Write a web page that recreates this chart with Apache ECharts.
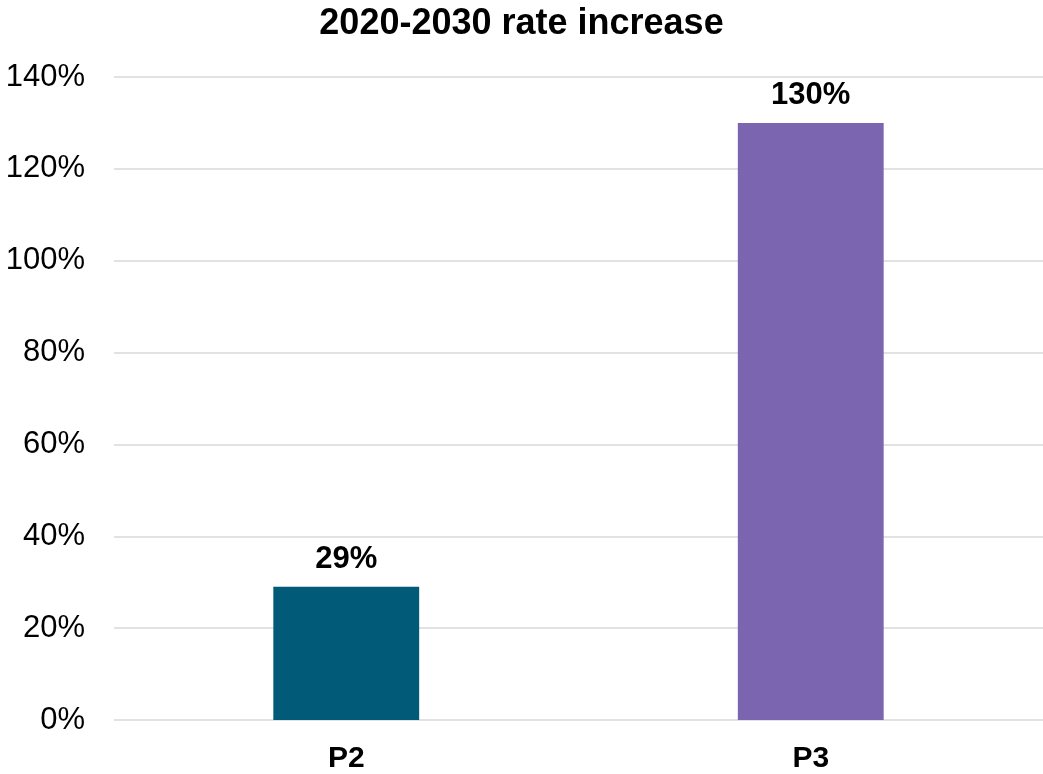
<!DOCTYPE html>
<html>
<head>
<meta charset="utf-8">
<script src="https://cdn.jsdelivr.net/npm/echarts@6/dist/echarts.min.js"></script>
<style>
  html, body { margin: 0; padding: 0; background: #fff; }
  #chart { width: 1043px; height: 774px; }
</style>
</head>
<body>
<div id="chart"></div>
<script>
// Rate increase between 2020 and 2030, per product
const categories = ['P2', 'P3'];
const rateIncrease = [29, 130];
const barColors = ['#005A78', '#7B65B0'];
const yTicks = [0, 20, 40, 60, 80, 100, 120, 140];

const chart = echarts.init(document.getElementById('chart'));
const font = '"Liberation Sans", Arial, sans-serif';

chart.setOption({
  animation: false,
  backgroundColor: '#ffffff',
  title: {
    text: '2020-2030 rate increase',
    left: 'center',
    top: 1,
    textStyle: { fontFamily: font, fontSize: 36, fontWeight: 'bold', color: '#000' }
  },
  grid: { left: 114, right: 0, top: 77, bottom: 54 },
  xAxis: {
    type: 'category',
    data: categories,
    axisLine: { show: false },
    axisTick: { show: false },
    axisLabel: { fontFamily: font, fontSize: 30, fontWeight: 'bold', color: '#000', margin: 24 }
  },
  yAxis: {
    type: 'value',
    min: yTicks[0],
    max: yTicks[yTicks.length - 1],
    interval: 20,
    axisLine: { show: false },
    axisTick: { show: false },
    splitLine: { lineStyle: { color: '#d9d9d9', width: 1.5 } },
    axisLabel: {
      fontFamily: font, fontSize: 31, color: '#000', margin: 29,
      formatter: v => v + '%'
    }
  },
  series: [{
    type: 'bar',
    barWidth: '31.4%',
    data: rateIncrease.map((v, i) => ({ value: v, itemStyle: { color: barColors[i] } })),
    label: {
      show: true,
      position: 'top',
      distance: 12,
      fontFamily: font, fontSize: 31, fontWeight: 'bold', color: '#000',
      formatter: p => p.value + '%'
    }
  }]
});
</script>
</body>
</html>
